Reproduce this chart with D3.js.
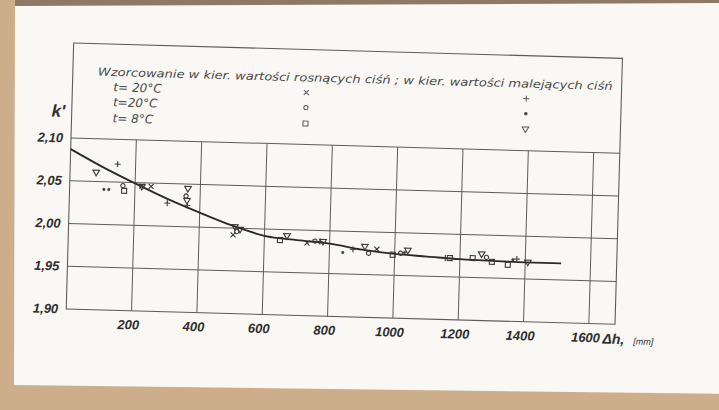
<!DOCTYPE html>
<html>
<head>
<meta charset="utf-8">
<script src="https://cdn.jsdelivr.net/npm/d3@7"></script>
<style>
  html, body { margin: 0; padding: 0; background: #f9f8f4; overflow: hidden; }
  svg { display: block; }
</style>
</head>
<body>
<svg id="chart" width="719" height="410"></svg>
<script>
// Calibration curve k'(Δh), Δh in mm
const curveDh = [0, 100, 200, 300, 400, 500, 600, 700, 800, 900, 1000, 1100, 1200, 1300, 1400, 1510];
const curveK  = [2.087, 2.067, 2.049, 2.032, 2.017, 2.003, 1.992, 1.988, 1.985, 1.979, 1.975, 1.973, 1.971, 1.970, 1.9695, 1.9695];

// Measurements, rising-pressure direction
const riseA_dh = [221, 249, 504, 731, 945];                    // t = 20 °C  (x)
const riseA_k  = [2.046, 2.046, 1.992, 1.985, 1.980];
const riseB_dh = [163, 357, 515, 755, 920, 1018, 1281];        // t = 20 °C  (∘)
const riseB_k  = [2.046, 2.036, 1.996, 1.9875, 1.975, 1.976, 1.974];
const riseC_dh = [167, 648, 994, 1169, 1239, 1298, 1347];      // t = 8 °C   (□)
const riseC_k  = [2.040, 1.9875, 1.974, 1.972, 1.9727, 1.969, 1.966];

// Measurements, falling-pressure direction
const fallA_dh = [145, 300, 362, 770, 872, 1155, 1374];        // t = 20 °C  (+)
const fallA_k  = [2.071, 2.027, 2.025, 1.987, 1.979, 1.972, 1.973];
const fallB_dh = [105, 120, 841, 1030, 1362];                  // t = 20 °C  (•)
const fallB_k  = [2.041, 2.041, 1.975, 1.977, 1.972];
const fallC_dh = [80, 221, 362, 360, 509, 525, 669, 780, 908, 1040, 1266, 1408]; // t = 8 °C (▽)
const fallC_k  = [2.060, 2.045, 2.044, 2.030, 2.001, 1.998, 1.992, 1.9865, 1.982, 1.979, 1.977, 1.969];

// Axes
const xTicks = [200, 400, 600, 800, 1000, 1200, 1400, 1600];
const yTicks = [1.90, 1.95, 2.00, 2.05, 2.10];
const yTickLabels = ["1,90", "1,95", "2,00", "2,05", "2,10"];

// Legend
const legendTitle = "Wzorcowanie w kier. wartości rosnących ciśń ; w kier. wartości malejących ciśń";
const legendRows = ["t= 20°C", "t=20°C", "t=  8°C"];
const legendRise = ["x", "o", "sq"];
const legendFall = ["+", "dot", "tri"];

const svg = d3.select("#chart");
const W = 719, H = 410;

// paper sheet on a tan board
svg.append("rect").attr("width", W).attr("height", H).attr("fill", "#cdae8a");
svg.append("path")
  .attr("d", "M15,5 L730,2 L730,394 L14,385 Z")
  .attr("fill", "#f9f8f4");
svg.append("path")
  .attr("d", "M15,0 L730,0 L730,3 L15,6 Z")
  .attr("fill", "#8d7a66");

// the drawing sits slightly tilted on the sheet
const g = svg.append("g").attr("transform", "rotate(1.6, 71, 138)");

const x = d3.scaleLinear().domain([0, 1680]).range([71, 620]);
const y = d3.scaleLinear().domain([1.90, 2.10]).range([309, 138]);
const frameTop = 43;

const ink = "#3a3a3a";
const gridInk = "#5c5c5c";

// outer frame
g.append("rect")
  .attr("x", x(0)).attr("y", frameTop)
  .attr("width", x(1680) - x(0)).attr("height", y(1.90) - frameTop)
  .attr("fill", "none").attr("stroke", gridInk).attr("stroke-width", 1.1);

// grid
g.append("g").selectAll("line").data(yTicks.filter(d => d > 1.90)).join("line")
  .attr("x1", x(0)).attr("x2", x(1680))
  .attr("y1", d => y(d)).attr("y2", d => y(d))
  .attr("stroke", gridInk).attr("stroke-width", 1);
g.append("g").selectAll("line").data(xTicks).join("line")
  .attr("x1", d => x(d)).attr("x2", d => x(d))
  .attr("y1", y(1.90)).attr("y2", y(2.10))
  .attr("stroke", gridInk).attr("stroke-width", 1);

// tick labels
const tickFont = "'Liberation Sans', Arial, sans-serif";
g.append("g").selectAll("text").data(yTicks).join("text")
  .attr("x", 63).attr("y", d => y(d)).attr("dy", "0.35em")
  .attr("text-anchor", "end")
  .attr("font-family", tickFont).attr("font-weight", "bold").attr("font-style", "italic")
  .attr("font-size", 13).attr("fill", "#2e2e2e")
  .text((d, i) => yTickLabels[i]);
g.append("g").selectAll("text").data(xTicks).join("text")
  .attr("x", d => x(d) - 3).attr("y", y(1.90) + 14).attr("dy", "0.35em")
  .attr("text-anchor", "middle")
  .attr("font-family", tickFont).attr("font-weight", "bold").attr("font-style", "italic")
  .attr("font-size", 13).attr("fill", "#2e2e2e")
  .text(d => d);

// axis titles
g.append("text").attr("x", 51).attr("y", 111).attr("dy", "0.35em")
  .attr("font-family", tickFont).attr("font-weight", "bold").attr("font-style", "italic")
  .attr("font-size", 17).attr("fill", "#2e2e2e")
  .text("k'");
const xt = g.append("text").attr("x", x(1600) + 14).attr("y", y(1.90) + 14).attr("dy", "0.35em")
  .attr("font-family", tickFont).attr("font-style", "italic").attr("fill", "#2e2e2e");
xt.append("tspan").attr("font-size", 14).attr("font-weight", "bold").text("Δh,");
xt.append("tspan").attr("dx", 9).attr("font-size", 9).text("[mm]");

// marker shapes
function markPath(type) {
  switch (type) {
    case "x":   return "M-2.5,-2.5L2.5,2.5M-2.5,2.5L2.5,-2.5";
    case "+":   return "M-3,0L3,0M0,-3L0,3";
    case "sq":  return "M-2.5,-2.5H2.5V2.5H-2.5Z";
    case "tri": return "M-3.3,-2.7H3.3L0,2.9Z";
    case "o":   return d3.symbol(d3.symbolCircle, 14)();
    case "dot": return d3.symbol(d3.symbolCircle, 5)();
  }
}
function drawMarks(dh, k, type) {
  g.append("g").selectAll("path").data(dh).join("path")
    .attr("transform", (d, i) => `translate(${x(d)},${y(k[i])})`)
    .attr("d", markPath(type))
    .attr("fill", type === "dot" ? ink : "none")
    .attr("stroke", ink).attr("stroke-width", type === "dot" ? 0.5 : 1.1);
}

// fitted curve
const line = d3.line().x(d => x(d)).y((d, i) => y(curveK[i])).curve(d3.curveMonotoneX);
g.append("path").datum(curveDh).attr("d", line)
  .attr("fill", "none").attr("stroke", "#2a2a2a").attr("stroke-width", 1.8);

drawMarks(riseA_dh, riseA_k, "x");
drawMarks(riseB_dh, riseB_k, "o");
drawMarks(riseC_dh, riseC_k, "sq");
drawMarks(fallA_dh, fallA_k, "+");
drawMarks(fallB_dh, fallB_k, "dot");
drawMarks(fallC_dh, fallC_k, "tri");

// legend
const legFont = "'DejaVu Sans', sans-serif";
g.append("text").attr("x", 96).attr("y", 71).attr("dy", "0.35em")
  .attr("font-family", legFont).attr("font-style", "italic").attr("font-size", 11)
  .attr("fill", "#4a4a4a").attr("textLength", 515).attr("lengthAdjust", "spacingAndGlyphs")
  .text(legendTitle);
const rowY = [86, 101, 117];
g.append("g").selectAll("text").data(legendRows).join("text")
  .attr("x", 112).attr("y", (d, i) => rowY[i]).attr("dy", "0.35em")
  .attr("font-family", legFont).attr("font-style", "italic").attr("font-size", 12)
  .attr("fill", "#4a4a4a")
  .text(d => d);
legendRise.forEach((t, i) => {
  g.append("path").attr("transform", `translate(305,${rowY[i]})`).attr("d", markPath(t))
    .attr("fill", t === "dot" ? ink : "none").attr("stroke", "#555").attr("stroke-width", 1);
});
legendFall.forEach((t, i) => {
  g.append("path").attr("transform", `translate(525,${rowY[i]})`).attr("d", markPath(t))
    .attr("fill", t === "dot" ? ink : "none").attr("stroke", "#555").attr("stroke-width", 1);
});
</script>
</body>
</html>
